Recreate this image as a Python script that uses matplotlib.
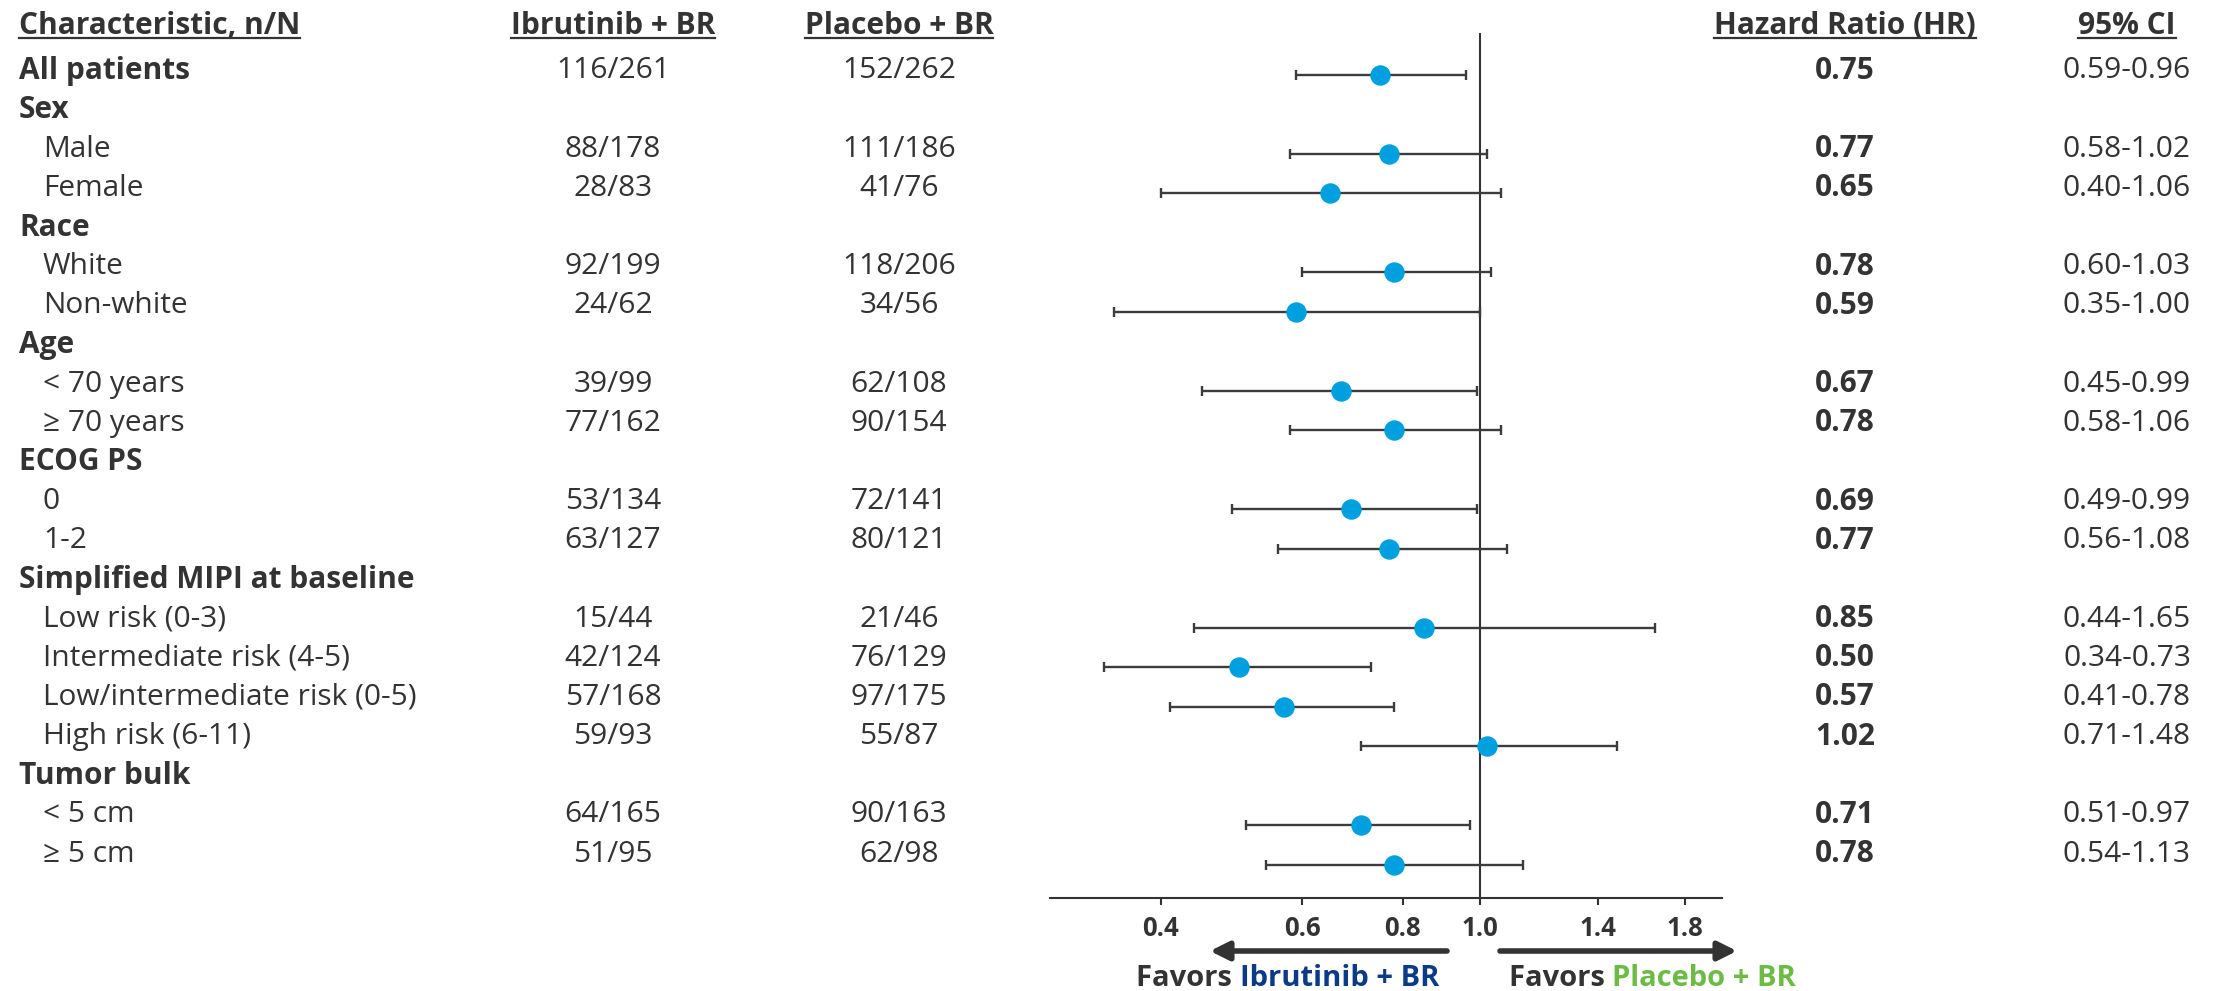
import numpy as np
import matplotlib
matplotlib.use('Agg')
import matplotlib.pyplot as plt
from matplotlib.ticker import NullLocator

plt.rcParams['font.family'] = ['Open Sans', 'DejaVu Sans']

# ---- data ----
labels = ['All patients', 'Sex', 'Male', 'Female', 'Race', 'White', 'Non-white',
          'Age', '< 70 years', '\u2265 70 years', 'ECOG PS', '0', '1-2',
          'Simplified MIPI at baseline', 'Low risk (0-3)', 'Intermediate risk (4-5)',
          'Low/intermediate risk (0-5)', 'High risk (6-11)', 'Tumor bulk',
          '< 5 cm', '\u2265 5 cm']
is_group = [True, True, False, False, True, False, False, True, False, False,
            True, False, False, True, False, False, False, False, True, False, False]
ibrutinib = ['116/261', '', '88/178', '28/83', '', '92/199', '24/62', '', '39/99',
             '77/162', '', '53/134', '63/127', '', '15/44', '42/124', '57/168',
             '59/93', '', '64/165', '51/95']
placebo = ['152/262', '', '111/186', '41/76', '', '118/206', '34/56', '', '62/108',
           '90/154', '', '72/141', '80/121', '', '21/46', '76/129', '97/175',
           '55/87', '', '90/163', '62/98']
hr = [0.75, None, 0.77, 0.65, None, 0.78, 0.59, None, 0.67, 0.78, None, 0.69, 0.77,
      None, 0.85, 0.50, 0.57, 1.02, None, 0.71, 0.78]
ci_low = [0.59, None, 0.58, 0.40, None, 0.60, 0.35, None, 0.45, 0.58, None, 0.49, 0.56,
          None, 0.44, 0.34, 0.41, 0.71, None, 0.51, 0.54]
ci_high = [0.96, None, 1.02, 1.06, None, 1.03, 1.00, None, 0.99, 1.06, None, 0.99, 1.08,
           None, 1.65, 0.73, 0.78, 1.48, None, 0.97, 1.13]
x_ticks = [0.4, 0.6, 0.8, 1.0, 1.4, 1.8]
x_ticklabels = ['0.4', '0.6', '0.8', '1.0', '1.4', '1.8']

TXT = '#333333'
DOT = '#009FDF'
BLUE = '#0B3B86'
GREEN = '#6CBB45'
FS = 21.5

W, H = 2226, 991
fig = plt.figure(figsize=(W / 100, H / 100), dpi=100)

# background axes in pixel units for the table text
bg = fig.add_axes([0, 0, 1, 1])
bg.set_xlim(0, W)
bg.set_ylim(H, 0)
bg.axis('off')

# forest plot axes
ax_top, ax_bot, ax_left, ax_right = 33, 898, 1050, 1722
ax = fig.add_axes([ax_left / W, (H - ax_bot) / H, (ax_right - ax_left) / W, (ax_bot - ax_top) / H])
ax.patch.set_alpha(0)
ax.set_xscale('log')
ax.set_xlim(0.291, 2.0)
ax.set_ylim(ax_bot, ax_top)

n = len(labels)
text_y = 71 + 39.15 * np.arange(n)
dot_y = 74.5 + 39.5 * np.arange(n)

# table text
col_lab, col_ind, col_ibr, col_pla, col_hr, col_ci = 19, 43, 613, 899, 1845, 2127
for i, lab in enumerate(labels):
    y = text_y[i]
    bg.text(col_lab if is_group[i] else col_ind, y, lab, fontsize=FS, color=TXT,
            fontweight='bold' if is_group[i] else 'normal', ha='left', va='center')
    if ibrutinib[i]:
        bg.text(col_ibr, y, ibrutinib[i], fontsize=FS, color=TXT, ha='center', va='center')
        bg.text(col_pla, y, placebo[i], fontsize=FS, color=TXT, ha='center', va='center')
    if hr[i] is not None:
        bg.text(col_hr, y, f'{hr[i]:.2f}', fontsize=FS, color=TXT, fontweight='bold',
                ha='center', va='center')
        bg.text(col_ci, y, f'{ci_low[i]:.2f}-{ci_high[i]:.2f}', fontsize=FS, color=TXT,
                ha='center', va='center')

# headers with underline
headers = [('Characteristic, n/N', col_lab, 'left'), ('Ibrutinib + BR', col_ibr, 'center'),
           ('Placebo + BR', col_pla, 'center'), ('Hazard Ratio (HR)', col_hr, 'center'),
           ('95% CI', col_ci, 'center')]
head_texts = []
for txt, x, ha in headers:
    head_texts.append(bg.text(x, 26, txt, fontsize=FS, color=TXT, fontweight='bold',
                              ha=ha, va='center'))

# forest marks
idx = [i for i in range(n) if hr[i] is not None]
hr_v = np.array([hr[i] for i in idx])
lo_v = np.array([ci_low[i] for i in idx])
hi_v = np.array([ci_high[i] for i in idx])
ax.axvline(1.0, color=TXT, lw=1.5, zorder=1)
ax.errorbar(hr_v, dot_y[idx], xerr=[hr_v - lo_v, hi_v - hr_v], fmt='o', color=DOT,
            markersize=13.7, ecolor='#3c3c3c', elinewidth=1.7, capsize=3.5, capthick=1.7,
            zorder=3)

for s in ['left', 'top', 'right']:
    ax.spines[s].set_visible(False)
ax.spines['bottom'].set_color(TXT)
ax.spines['bottom'].set_linewidth(1.5)
ax.set_yticks([])
ax.set_xticks(x_ticks)
ax.set_xticklabels(x_ticklabels)
ax.xaxis.set_minor_locator(NullLocator())
ax.tick_params(axis='x', length=5, width=1.5, color=TXT, pad=7, labelsize=18.5,
               labelcolor=TXT)
for t in ax.get_xticklabels():
    t.set_fontweight('bold')

# favors arrows
arrow = dict(arrowstyle='-|>', lw=4, color=TXT, mutation_scale=28, shrinkA=0, shrinkB=0)
bg.annotate('', xy=(1210, 951), xytext=(1447, 951), arrowprops=arrow)
bg.annotate('', xy=(1737, 951), xytext=(1500, 951), arrowprops=arrow)

fig.canvas.draw()
renderer = fig.canvas.get_renderer()


def colored_text(x, y, parts):
    for s, c in parts:
        t = bg.text(x, y, s, fontsize=21, color=c, fontweight='bold', ha='left', va='center')
        bb = t.get_window_extent(renderer)
        x += bb.width


colored_text(1136, 978, [('Favors ', TXT), ('Ibrutinib + BR', BLUE)])
colored_text(1509, 978, [('Favors ', TXT), ('Placebo + BR', GREEN)])

for t in head_texts:
    bb = t.get_window_extent(renderer)
    bg.plot([bb.x0, bb.x1], [38, 38], color=TXT, lw=1.6)

fig.savefig('out.png', dpi=100)
